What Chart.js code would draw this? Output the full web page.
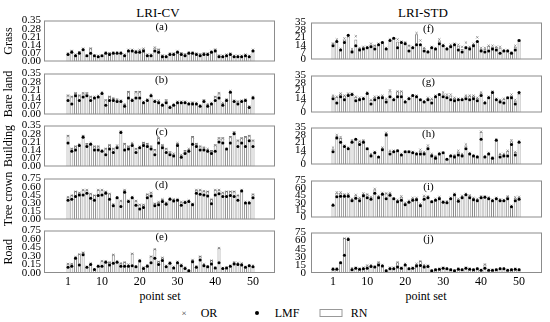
<!DOCTYPE html>
<html>
<head>
<meta charset="utf-8">
<script src="https://cdn.jsdelivr.net/npm/chart.js@4.4.0/dist/chart.umd.min.js"></script>
<style>
body { margin: 0; width: 550px; height: 322px; position: relative; background: #fff; overflow: hidden; font-family: 'Liberation Serif', serif; }
canvas { position: absolute; }
.txt { position: absolute; color: #000; font-size: 12px; white-space: nowrap; transform: translate(-50%, -50%); }
.dot { position: absolute; width: 4px; height: 4px; border-radius: 50%; background: #000; transform: translate(-50%, -50%); }
.box { position: absolute; width: 21px; height: 6px; border: 1px solid #999; background: #fff; transform: translate(-50%, -50%); }
</style>
</head>
<body>
<div class="txt" style="left:158px;top:13px;font-size:13px">LRI-CV</div>
<div class="txt" style="left:423px;top:13px;font-size:13px">LRI-STD</div>
<div class="txt" style="left:160px;top:296px">point set</div>
<div class="txt" style="left:426px;top:296px">point set</div>
<div class="txt" style="left:184px;top:313px;font-size:9px;color:#333">×</div>
<div class="txt" style="left:209px;top:313px">OR</div>
<div class="dot" style="left:257px;top:313px"></div>
<div class="txt" style="left:287px;top:313px">LMF</div>
<div class="box" style="left:331px;top:313px"></div>
<div class="txt" style="left:359px;top:313px">RN</div>

<script>
// tick values
const cvTicksSmall = [0, 0.07, 0.14, 0.21, 0.28, 0.35];
const cvTicksLarge = [0, 0.15, 0.30, 0.45, 0.60, 0.75];
const stdTicksSmall = [0, 7, 14, 21, 28, 35];
const stdTicksLarge = [0, 15, 30, 45, 60, 75];
const xTickLabels = [1, 10, 20, 30, 40, 50];

// LRI-CV
const cvGrassRN = [0.07,0.10,0.06,0.09,0.11,0.05,0.12,0.05,0.05,0.05,0.08,0.08,0.08,0.08,0.08,0.06,0.10,0.10,0.10,0.10,0.11,0.06,0.06,0.12,0.11,0.06,0.05,0.07,0.07,0.09,0.08,0.07,0.08,0.08,0.07,0.07,0.08,0.07,0.09,0.11,0.06,0.05,0.06,0.07,0.05,0.05,0.05,0.06,0.05,0.10];
const cvGrassLMF = [0.06,0.08,0.05,0.07,0.10,0.05,0.07,0.05,0.04,0.05,0.07,0.06,0.07,0.07,0.07,0.05,0.09,0.09,0.08,0.08,0.09,0.05,0.05,0.09,0.08,0.04,0.04,0.06,0.06,0.08,0.06,0.05,0.07,0.07,0.06,0.05,0.06,0.06,0.08,0.09,0.04,0.04,0.05,0.06,0.04,0.04,0.04,0.05,0.04,0.09];
const cvGrassOR = [0.07,0.09,0.06,0.08,0.11,0.05,0.11,0.05,0.05,0.05,0.08,0.07,0.08,0.08,0.08,0.06,0.10,0.10,0.09,0.10,0.11,0.06,0.06,0.12,0.10,0.05,0.05,0.07,0.07,0.09,0.07,0.06,0.08,0.08,0.07,0.06,0.07,0.07,0.09,0.10,0.05,0.05,0.06,0.07,0.05,0.05,0.05,0.06,0.05,0.10];

const cvBareRN = [0.17,0.16,0.19,0.17,0.19,0.19,0.16,0.15,0.16,0.19,0.13,0.16,0.14,0.13,0.12,0.09,0.20,0.13,0.20,0.20,0.11,0.13,0.17,0.12,0.12,0.09,0.13,0.07,0.09,0.11,0.11,0.11,0.10,0.11,0.10,0.08,0.13,0.09,0.10,0.16,0.19,0.10,0.13,0.20,0.12,0.12,0.12,0.13,0.07,0.16];
const cvBareLMF = [0.12,0.09,0.16,0.12,0.15,0.16,0.12,0.14,0.15,0.18,0.08,0.12,0.12,0.11,0.11,0.07,0.14,0.12,0.14,0.14,0.10,0.12,0.16,0.11,0.10,0.08,0.10,0.06,0.08,0.10,0.10,0.10,0.09,0.09,0.09,0.07,0.11,0.07,0.09,0.12,0.14,0.08,0.12,0.19,0.11,0.09,0.11,0.12,0.06,0.14];
const cvBareOR = [0.16,0.15,0.18,0.16,0.18,0.18,0.15,0.15,0.16,0.19,0.12,0.15,0.14,0.13,0.12,0.09,0.19,0.13,0.19,0.19,0.11,0.13,0.17,0.12,0.12,0.09,0.12,0.07,0.09,0.11,0.11,0.11,0.10,0.10,0.10,0.08,0.12,0.09,0.10,0.15,0.18,0.10,0.13,0.20,0.12,0.11,0.12,0.13,0.07,0.15];

const cvBuildRN = [0.27,0.16,0.18,0.19,0.27,0.20,0.20,0.18,0.18,0.14,0.16,0.19,0.16,0.18,0.30,0.20,0.18,0.20,0.16,0.17,0.21,0.20,0.18,0.15,0.25,0.19,0.16,0.13,0.11,0.20,0.10,0.14,0.15,0.26,0.20,0.18,0.17,0.15,0.14,0.19,0.25,0.25,0.15,0.26,0.30,0.23,0.25,0.26,0.27,0.23];
const cvBuildLMF = [0.20,0.13,0.14,0.18,0.25,0.17,0.19,0.14,0.14,0.13,0.10,0.15,0.12,0.16,0.29,0.14,0.15,0.18,0.12,0.16,0.18,0.17,0.15,0.10,0.20,0.16,0.12,0.10,0.09,0.18,0.08,0.11,0.13,0.19,0.17,0.14,0.14,0.13,0.11,0.13,0.21,0.20,0.15,0.20,0.28,0.17,0.20,0.17,0.22,0.17];
const cvBuildOR = [0.26,0.15,0.17,0.19,0.26,0.19,0.20,0.17,0.17,0.14,0.15,0.18,0.15,0.18,0.30,0.19,0.17,0.20,0.15,0.17,0.20,0.19,0.17,0.14,0.24,0.18,0.15,0.12,0.11,0.20,0.10,0.13,0.15,0.25,0.19,0.17,0.16,0.15,0.13,0.18,0.24,0.24,0.15,0.25,0.29,0.22,0.24,0.25,0.26,0.22];

const cvTreeRN = [0.42,0.45,0.52,0.50,0.55,0.55,0.48,0.45,0.55,0.55,0.52,0.48,0.28,0.42,0.35,0.55,0.35,0.42,0.35,0.28,0.28,0.47,0.50,0.30,0.33,0.38,0.32,0.40,0.38,0.38,0.33,0.33,0.35,0.30,0.55,0.55,0.53,0.52,0.38,0.55,0.55,0.50,0.52,0.52,0.52,0.45,0.55,0.32,0.33,0.47];
const cvTreeLMF = [0.35,0.37,0.42,0.45,0.45,0.48,0.39,0.35,0.44,0.45,0.48,0.37,0.25,0.40,0.24,0.50,0.33,0.40,0.26,0.19,0.22,0.40,0.43,0.25,0.27,0.33,0.28,0.37,0.34,0.35,0.26,0.31,0.33,0.27,0.48,0.46,0.45,0.43,0.29,0.45,0.47,0.42,0.42,0.44,0.42,0.35,0.52,0.30,0.30,0.40];
const cvTreeOR = [0.41,0.44,0.51,0.49,0.54,0.54,0.47,0.44,0.54,0.54,0.51,0.47,0.28,0.41,0.34,0.54,0.35,0.41,0.34,0.27,0.27,0.46,0.49,0.29,0.32,0.37,0.31,0.39,0.37,0.37,0.32,0.33,0.35,0.29,0.54,0.54,0.52,0.51,0.37,0.54,0.54,0.49,0.51,0.51,0.51,0.44,0.54,0.32,0.32,0.46];

const cvRoadRN = [0.17,0.17,0.29,0.34,0.37,0.11,0.17,0.07,0.13,0.22,0.22,0.20,0.33,0.21,0.18,0.20,0.15,0.35,0.12,0.24,0.10,0.15,0.30,0.43,0.21,0.28,0.13,0.19,0.11,0.20,0.15,0.10,0.05,0.24,0.12,0.30,0.16,0.12,0.23,0.10,0.45,0.09,0.10,0.13,0.20,0.18,0.17,0.11,0.14,0.13];
const cvRoadLMF = [0.10,0.12,0.26,0.14,0.32,0.10,0.15,0.06,0.12,0.12,0.19,0.14,0.17,0.19,0.12,0.12,0.12,0.13,0.11,0.21,0.08,0.12,0.18,0.26,0.15,0.22,0.11,0.17,0.09,0.18,0.13,0.08,0.04,0.20,0.10,0.23,0.13,0.11,0.16,0.09,0.18,0.08,0.09,0.12,0.16,0.15,0.14,0.10,0.13,0.11];
const cvRoadOR = [0.16,0.16,0.28,0.33,0.36,0.11,0.17,0.07,0.13,0.21,0.21,0.19,0.32,0.21,0.17,0.19,0.15,0.34,0.12,0.23,0.10,0.14,0.29,0.42,0.20,0.27,0.13,0.19,0.11,0.20,0.15,0.10,0.05,0.23,0.12,0.29,0.16,0.12,0.22,0.10,0.44,0.09,0.10,0.13,0.19,0.18,0.17,0.11,0.14,0.13];

// LRI-STD
const stdGrassRN = [16,18,10,19,22,9,19,11,12,12,14,14,15,16,11,19,20,17,17,17,14,12,24,15,11,8,12,11,18,14,11,14,15,13,10,13,12,15,18,10,10,13,12,12,11,9,9,7,12,19];
const stdGrassLMF = [13,17,9,16,23,7,13,9,10,11,12,10,14,16,10,18,20,11,16,15,8,11,14,14,8,7,11,10,15,13,10,12,14,9,7,11,10,13,17,8,7,8,10,9,6,8,8,6,9,18];
const stdGrassOR = [15,19,10,20,22,10,22,11,12,12,15,13,15,16,11,19,20,19,17,16,13,12,25,18,11,8,12,11,19,14,11,14,15,14,12,16,12,15,21,11,11,13,13,12,12,9,9,7,13,18];

const stdBareRN = [16,15,18,16,18,18,15,14,14,19,12,15,15,16,13,20,13,20,20,11,14,16,16,12,11,14,13,16,17,18,16,16,14,13,13,16,16,16,14,19,10,15,20,13,12,13,14,16,11,18];
const stdBareLMF = [13,9,15,12,16,17,11,12,13,18,8,12,14,14,10,15,12,15,15,10,13,16,15,12,10,12,9,15,17,15,14,12,11,12,12,13,12,13,11,16,9,14,19,12,10,9,14,14,8,19];
const stdBareOR = [16,15,18,16,18,18,15,14,14,19,12,15,15,16,13,21,13,20,20,11,14,16,16,12,11,14,13,16,17,19,17,17,14,13,13,16,16,16,14,19,10,15,20,13,12,13,14,17,12,18];

const stdBuildRN = [15,27,25,18,16,23,24,22,23,15,10,12,7,16,30,13,13,13,10,12,12,12,11,13,12,17,10,8,11,11,5,9,9,12,10,18,11,9,8,31,8,11,7,24,10,10,13,22,12,22];
const stdBuildLMF = [12,25,21,17,15,21,24,19,21,15,8,11,7,14,28,10,12,13,9,12,12,11,10,10,10,15,8,6,10,11,5,8,7,9,8,15,10,8,7,24,7,10,6,23,7,8,8,19,9,21];
const stdBuildOR = [16,28,26,18,16,23,24,22,23,15,10,12,7,16,30,13,13,13,10,12,12,12,11,14,12,18,10,8,11,11,5,9,9,13,10,19,11,9,8,31,8,11,7,24,10,10,13,23,12,22];

const stdTreeRN = [27,50,50,47,48,38,45,40,48,47,42,57,44,50,49,50,39,35,42,30,34,40,40,28,43,43,33,38,42,33,33,40,48,38,44,48,45,40,38,43,43,41,36,40,37,36,43,24,40,42];
const stdTreeLMF = [25,42,43,43,43,34,39,34,44,40,37,49,40,47,38,45,38,32,35,26,31,35,36,24,37,40,32,35,38,31,30,38,46,33,40,46,40,36,34,40,41,38,34,38,34,34,38,22,34,37];
const stdTreeOR = [27,51,51,47,48,38,46,40,49,47,42,58,44,50,49,50,39,36,43,30,34,40,40,28,44,43,33,38,42,33,33,40,48,38,44,48,45,40,38,43,43,41,36,40,37,36,43,24,41,42];

const stdRoadRN = [9,9,20,65,65,9,10,8,10,14,15,12,20,15,5,10,10,20,10,17,9,10,17,22,15,14,5,7,8,10,9,7,5,9,7,10,8,7,9,6,16,6,6,7,9,9,6,7,8,7];
const stdRoadLMF = [7,7,19,33,62,6,9,7,8,9,12,11,15,13,4,8,8,11,9,15,8,9,13,14,11,12,4,6,7,9,8,6,4,7,6,9,7,6,8,5,9,5,5,6,8,8,5,6,7,6];
const stdRoadOR = [9,9,20,64,65,9,10,8,10,14,15,12,20,15,5,10,10,20,10,17,9,10,17,22,15,14,5,7,8,10,9,7,5,9,7,10,8,7,9,6,16,6,6,7,9,9,6,7,8,7];

const rowNames = ['Grass', 'Bare land', 'Building', 'Tree crown', 'Road'];
const plotTops = [19, 72, 124, 177, 229];
const plotH = 44;

const cvSets = [
    [cvGrassRN, cvGrassLMF, cvGrassOR, cvTicksSmall],
    [cvBareRN, cvBareLMF, cvBareOR, cvTicksSmall],
    [cvBuildRN, cvBuildLMF, cvBuildOR, cvTicksSmall],
    [cvTreeRN, cvTreeLMF, cvTreeOR, cvTicksLarge],
    [cvRoadRN, cvRoadLMF, cvRoadOR, cvTicksLarge]
];
const stdSets = [
    [stdGrassRN, stdGrassLMF, stdGrassOR, stdTicksSmall],
    [stdBareRN, stdBareLMF, stdBareOR, stdTicksSmall],
    [stdBuildRN, stdBuildLMF, stdBuildOR, stdTicksSmall],
    [stdTreeRN, stdTreeLMF, stdTreeOR, stdTicksLarge],
    [stdRoadRN, stdRoadLMF, stdRoadOR, stdTicksLarge]
];

const FONT = "'Liberation Serif', serif";

// frame around the plot + panel letter
const framePlugin = {
    id: 'frame',
    afterDatasetsDraw(chart, args, opts) {
        const {ctx, chartArea: a} = chart;
        ctx.save();
        ctx.strokeStyle = '#8c8c8c';
        ctx.lineWidth = 1;
        ctx.strokeRect(a.left + 0.5, a.top + 0.5, a.right - a.left - 1, a.bottom - a.top - 1);
        ctx.fillStyle = '#000';
        ctx.font = '11px ' + FONT;
        ctx.textAlign = 'center';
        ctx.textBaseline = 'middle';
        ctx.fillText(opts.label, (a.left + a.right) / 2 + 2, a.top + 7);
        ctx.restore();
    }
};

function toPoints(arr) {
    return arr.map((v, i) => ({x: i + 1, y: v}));
}

function makePanel(set, row, col, letter) {
    const [rn, lmf, or, yTicks] = set;
    const bottom = row === 4;
    const left = col === 0;
    const canvas = document.createElement('canvas');
    const w = left ? 280 : 270;
    const h = bottom ? 7 + plotH + 16 + 2 : plotH + 14;
    canvas.width = w;
    canvas.height = h;
    canvas.style.left = (left ? 0 : 280) + 'px';
    canvas.style.top = (plotTops[row] - 7) + 'px';
    canvas.style.width = w + 'px';
    canvas.style.height = h + 'px';
    document.body.appendChild(canvas);

    const yMax = yTicks[yTicks.length - 1];
    new Chart(canvas, {
        type: 'bar',
        data: {
            datasets: [
                {
                    type: 'line', data: toPoints(lmf), showLine: false, order: 1,
                    pointStyle: 'circle', pointRadius: 1.5, pointBackgroundColor: '#000', pointBorderColor: '#000', pointBorderWidth: 0
                },
                {
                    type: 'line', data: toPoints(or), showLine: false, order: 2,
                    pointStyle: 'crossRot', pointRadius: 1.6, pointBorderColor: '#666', pointBorderWidth: 0.6
                },
                {
                    type: 'bar', data: toPoints(rn), order: 3,
                    backgroundColor: '#fff', borderColor: '#8a8a8a', borderWidth: 1,
                    barPercentage: 0.8, categoryPercentage: 1
                }
            ]
        },
        options: {
            responsive: false,
            animation: false,
            events: [],
            layout: {
                autoPadding: false,
                padding: {top: 7, bottom: bottom ? 2 : 7, left: 0, right: left ? 5 : 8}
            },
            plugins: {
                legend: {display: false},
                tooltip: {enabled: false},
                frame: {label: '(' + letter + ')'}
            },
            scales: {
                x: {
                    type: 'linear',
                    min: left ? -0.26 : 0.27,
                    max: left ? 50.73 : 50.97,
                    display: bottom,
                    grid: {display: false, drawTicks: false},
                    border: {display: false},
                    afterBuildTicks: s => { s.ticks = xTickLabels.map(v => ({value: v})); },
                    afterFit: s => { s.height = bottom ? 16 : 0; },
                    ticks: {color: '#000', padding: 2, maxRotation: 0, autoSkip: false, font: {family: FONT, size: 12}}
                },
                y: {
                    min: 0,
                    max: yMax,
                    grid: {display: false, drawTicks: false},
                    border: {display: false},
                    afterBuildTicks: s => { s.ticks = yTicks.map(v => ({value: v})); },
                    afterFit: s => { s.width = left ? 44 : 31; },
                    ticks: {
                        color: '#000', padding: left ? 3 : 5, autoSkip: false,
                        font: {family: FONT, size: 11, lineHeight: 1},
                        callback: v => left ? v.toFixed(2) : String(v)
                    },
                    title: {
                        display: left,
                        text: rowNames[row],
                        color: '#000',
                        font: {family: FONT, size: 12},
                        padding: {top: 2, bottom: 0}
                    }
                }
            }
        },
        plugins: [framePlugin]
    });
}

const letters = ['a', 'b', 'c', 'd', 'e', 'f', 'g', 'h', 'i', 'j'];
cvSets.forEach((set, i) => makePanel(set, i, 0, letters[i]));
stdSets.forEach((set, i) => makePanel(set, i, 1, letters[i + 5]));
</script>
</body>
</html>
